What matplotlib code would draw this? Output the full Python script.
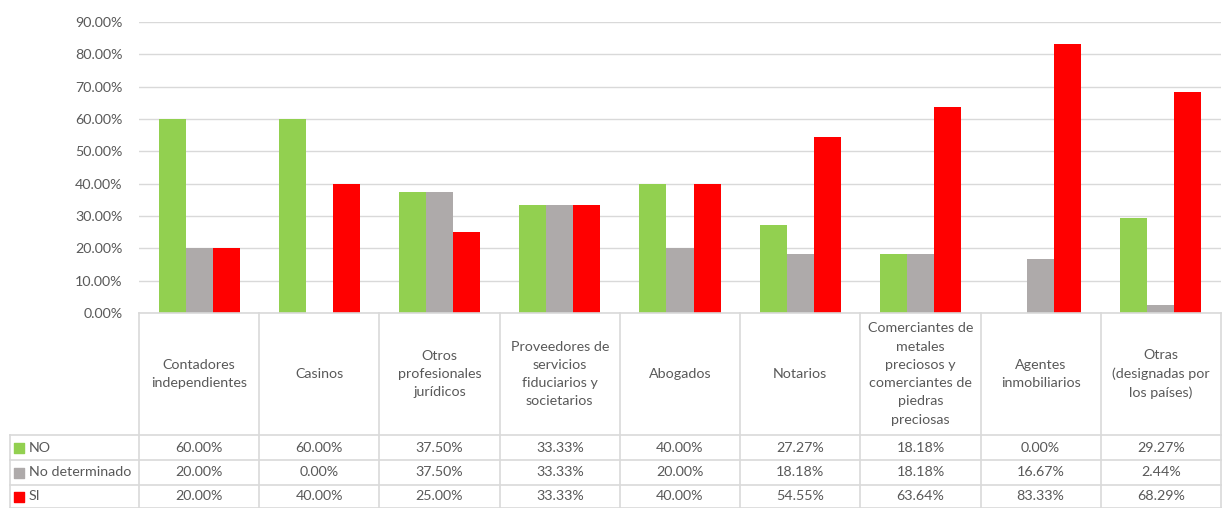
import numpy as np
import matplotlib.pyplot as plt

categories = ['Contadores\nindependientes', 'Casinos', 'Otros\nprofesionales\njurídicos',
              'Proveedores de\nservicios\nfiduciarios y\nsocietarios', 'Abogados', 'Notarios',
              'Comerciantes de\nmetales\npreciosos y\ncomerciantes de\npiedras\npreciosas',
              'Agentes\ninmobiliarios', 'Otras\n(designadas por\nlos países)']
series_names = ['NO', 'No determinado', 'SI']
no_vals = [60.00, 60.00, 37.50, 33.33, 40.00, 27.27, 18.18, 0.00, 29.27]
nd_vals = [20.00, 0.00, 37.50, 33.33, 20.00, 18.18, 18.18, 16.67, 2.44]
si_vals = [20.00, 40.00, 25.00, 33.33, 40.00, 54.55, 63.64, 83.33, 68.29]
colors = ['#92d050', '#aeaaaa', '#ff0000']

plt.rcParams['font.family'] = ['Lato', 'DejaVu Sans']
txt = '#595959'
line_c = '#d9d9d9'

W, H = 1222, 508
fig = plt.figure(figsize=(W / 100, H / 100), dpi=100)

# pixel layout
px_left, px_right, px_top, px_axis = 139, 1221, 22, 313
ax = fig.add_axes([px_left / W, 1 - px_axis / H, (px_right - px_left) / W, (px_axis - px_top) / H])

n = len(categories)
x = np.arange(n)
bw = 0.225
for i, vals in enumerate([no_vals, nd_vals, si_vals]):
    ax.bar(x + (i - 1) * bw, np.array(vals) / 100, width=bw, color=colors[i], zorder=3)

ax.set_xlim(-0.5, n - 0.5)
ax.set_ylim(0, 0.9)
ax.set_yticks(np.arange(0, 0.91, 0.1))
ax.set_yticklabels(['%.2f%%' % (v * 100) for v in np.arange(0, 0.91, 0.1)], color=txt, fontsize=10.3)
ax.tick_params(axis='y', length=0, pad=12)
ax.set_xticks([])
ax.grid(axis='y', color=line_c, linewidth=1, zorder=0)
for s in ax.spines.values():
    s.set_visible(False)

# data table below the chart
unit = (px_right - px_left) / n
tleft = 10
tax = fig.add_axes([tleft / W, 0, (px_right - tleft) / W, 1 - px_axis / H])
tax.set_xlim(-0.5 - (px_left - tleft) / unit, n - 0.5)
tax.set_ylim(H, px_axis)
tax.axis('off')

row_y = [px_axis, 435, 460, 485, 508]
lab_x0 = -0.5 - (px_left - tleft) / unit
kw = dict(color=line_c, linewidth=1.2, clip_on=False)
tax.plot([-0.5, n - 0.5], [row_y[0]] * 2, **kw)
for yy in row_y[1:4]:
    tax.plot([lab_x0, n - 0.5], [yy, yy], **kw)
tax.plot([lab_x0, n - 0.5], [row_y[4] - 0.5] * 2, **kw)
for b in np.arange(n + 1) - 0.5:
    tax.plot([b, b], [row_y[0], row_y[4]], **kw)
tax.plot([lab_x0, lab_x0], [row_y[1], row_y[4]], **kw)

for j, cat in enumerate(categories):
    tax.text(j, (row_y[0] + row_y[1]) / 2, cat, ha='center', va='center',
             fontsize=10.3, color=txt, linespacing=1.62)

for r, (name, vals) in enumerate(zip(series_names, [no_vals, nd_vals, si_vals])):
    yc = (row_y[r + 1] + row_y[r + 2]) / 2
    tax.scatter([lab_x0 + 9 / unit], [yc], marker='s', s=42, color=colors[r], clip_on=False)
    tax.text(lab_x0 + 19 / unit, yc, name, ha='left', va='center', fontsize=10.3, color=txt)
    for j, v in enumerate(vals):
        tax.text(j, yc, '%.2f%%' % v, ha='center', va='center', fontsize=10.3, color=txt)

fig.savefig('out.png', dpi=100)
